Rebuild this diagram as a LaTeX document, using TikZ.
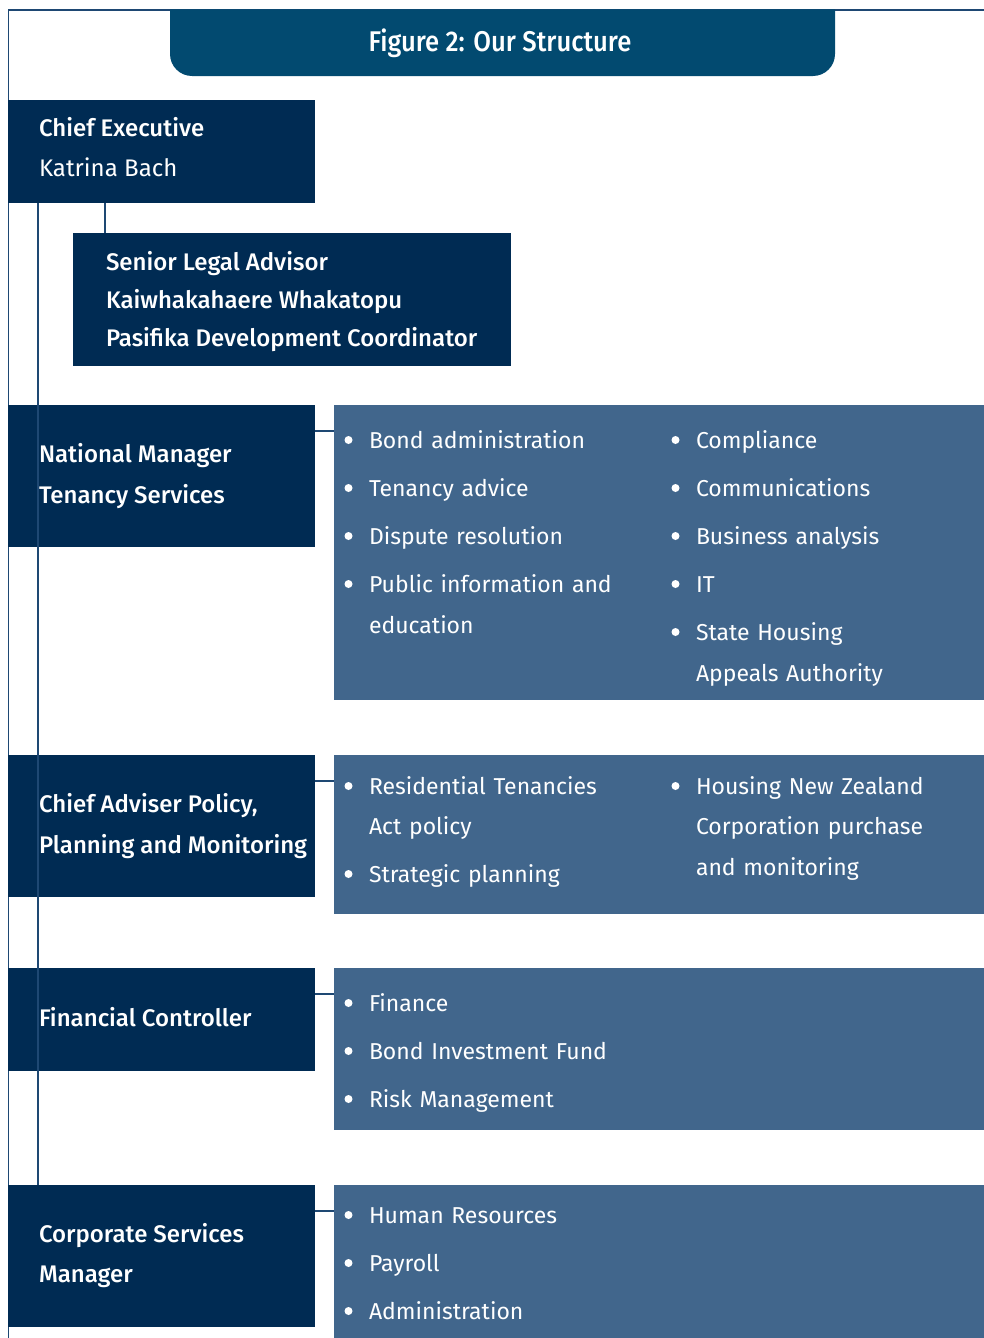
\documentclass[tikz,border=0pt]{standalone}
\usepackage{fontspec}
\setmainfont{Fira Sans}[BoldFont={Fira Sans Medium}]
\newfontfamily\titlefont{Fira Sans Medium}[FakeStretch=0.9]
\usetikzlibrary{positioning}

\definecolor{navy}{HTML}{002B53}
\definecolor{titleblue}{HTML}{024A70}
\definecolor{slate}{HTML}{41668C}
\definecolor{rulecol}{HTML}{1E4873}

% bullet and hanging indent for the duty lists
\newcommand{\bl}{\makebox[26pt][l]{\hspace{1.5pt}\tikz[baseline=0pt]\fill[white] (4pt,8pt) circle[radius=4pt];}}
\newcommand{\hang}{\hspace*{26pt}}

\begin{document}
\begin{tikzpicture}[x=1pt, y=-1pt,
  every node/.style={inner sep=0pt, outer sep=0pt, text=white},
  headbox/.style={fill=navy, anchor=north west, minimum width=307pt},
  dutybox/.style={fill=slate, anchor=north west, minimum width=650pt},
  headtext/.style={anchor=west, align=left, font=\fontsize{24}{41}\selectfont\bfseries},
  duties/.style={anchor=base west, align=left, text width=300pt,
                 font=\fontsize{23}{41}\selectfont},
  link/.style={draw=rulecol, line width=1.3pt},
  frame/.style={draw=rulecol, line width=1.2pt}
]
  \useasboundingbox (0,0) rectangle (984,1338);

  % outer frame and heading tab
  \draw[frame] (8.5,1338) -- (8.5,10) -- (984,10);
  \fill[titleblue] (170,9.4) -- (835,9.4) [rounded corners=22pt] -- (835,76) -- (170,76) [sharp corners] -- cycle;
  \node[font=\titlefont\fontsize{28.5}{30}\selectfont, anchor=base] (title) at (500,51.5) {Figure 2: Our Structure};

  % chief executive and direct reports
  \node[headbox, minimum height=103pt] (ce) at (8,100) {};
  \node[headtext, font=\fontsize{24}{40}\selectfont] (ce-text) at ([xshift=31pt,yshift=4pt]ce.west)
       {\textbf{Chief Executive}\\Katrina Bach};

  \node[fill=navy, anchor=north west, minimum width=438pt, minimum height=133pt] (legal) at (73,233) {};
  \node[headtext, font=\fontsize{24}{38.3}\selectfont\bfseries] (legal-text) at ([xshift=33pt,yshift=-2pt]legal.west)
       {Senior Legal Advisor\\Kaiwhakahaere Whakatopu\\Pasifika Development Coordinator};

  % managers
  \node[headbox, minimum height=142pt] (nm) at (8,405) {};
  \node[headtext] (nm-text) at ([xshift=31pt]nm.west) {National Manager\\Tenancy Services};

  \node[headbox, minimum height=142pt] (ca) at (8,755) {};
  \node[headtext] (ca-text) at ([xshift=31pt]ca.west) {Chief Adviser Policy,\\Planning and Monitoring};

  \node[headbox, minimum height=103pt] (fc) at (8,968) {};
  \node[headtext] (fc-text) at ([xshift=31pt,yshift=2pt]fc.west) {Financial Controller};

  \node[headbox, minimum height=142pt] (cs) at (8,1185) {};
  \node[headtext, font=\fontsize{24}{40}\selectfont\bfseries] (cs-text) at ([xshift=31pt]cs.west)
       {Corporate Services\\Manager};

  % duty panels
  \node[dutybox, minimum height=295pt] (nm-duty) at (334,405) {};
  \node[dutybox, minimum height=159pt] (ca-duty) at (334,755) {};
  \node[dutybox, minimum height=162pt] (fc-duty) at (334,968) {};
  \node[dutybox, minimum height=153pt] (cs-duty) at (334,1185) {};

  \node[duties] (nm-a) at (343,448)
       {\bl Bond administration\\[7pt]\bl Tenancy advice\\[7pt]\bl Dispute resolution\\[7pt]
        \bl Public information and\\\hang education};
  \node[duties] (nm-b) at (670,448)
       {\bl Compliance\\[7pt]\bl Communications\\[7pt]\bl Business analysis\\[7pt]\bl IT\\[7pt]
        \bl State Housing\\\hang Appeals Authority};

  \node[duties, font=\fontsize{23}{40}\selectfont] (ca-a) at (343,794)
       {\bl Residential Tenancies\\\hang Act policy\\[8pt]\bl Strategic planning};
  \node[duties, font=\fontsize{23}{40.5}\selectfont] (ca-b) at (670,794)
       {\bl Housing New Zealand\\\hang Corporation purchase\\\hang and monitoring};

  \node[duties, font=\fontsize{23}{48}\selectfont] (fc-a) at (343,1011)
       {\bl Finance\\\bl Bond Investment Fund\\\bl Risk Management};
  \node[duties, font=\fontsize{23}{48}\selectfont] (cs-a) at (343,1223)
       {\bl Human Resources\\\bl Payroll\\\bl Administration};

  % reporting lines
  \draw[link] ([xshift=30pt]ce.south west) -- ([xshift=30pt]cs.north west);
  \draw[link] ([xshift=32pt]legal.north west) -- ([xshift=32pt]legal.north west |- ce.south);
  \draw[link] ([yshift=-26pt]nm.north east) -- ([yshift=-26pt]nm.north east -| nm-duty.west);
  \draw[link] ([yshift=-26pt]ca.north east) -- ([yshift=-26pt]ca.north east -| ca-duty.west);
  \draw[link] ([yshift=-26pt]fc.north east) -- ([yshift=-26pt]fc.north east -| fc-duty.west);
  \draw[link] ([yshift=-26pt]cs.north east) -- ([yshift=-26pt]cs.north east -| cs-duty.west);
\end{tikzpicture}
\end{document}
